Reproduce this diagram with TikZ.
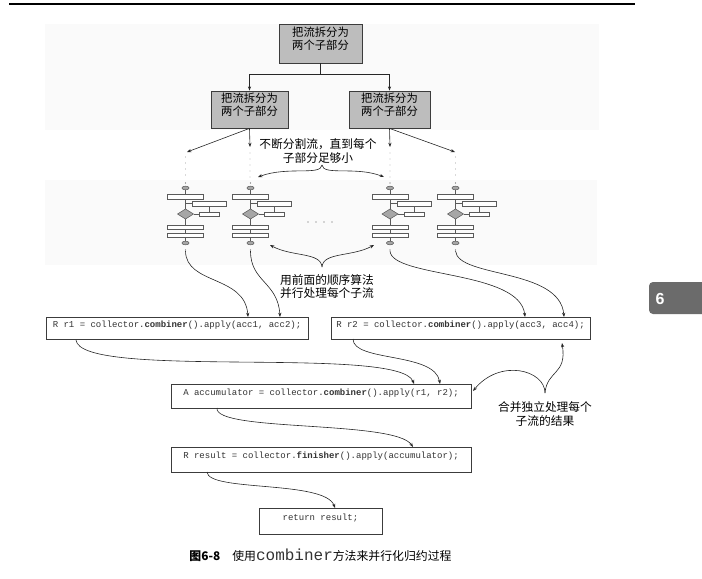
\documentclass[tikz,border=0pt]{standalone}
\usepackage{fontspec}
\newfontfamily\cjk{Noto Sans CJK SC}
\newfontfamily\code{Liberation Mono}
\newfontfamily\tabfont{Liberation Sans}
\usetikzlibrary{arrows.meta,fit}
\definecolor{bandc}{HTML}{FAFAFA}
\definecolor{boxc}{HTML}{BDBDBD}
\definecolor{edgec}{HTML}{3C3C3C}
\definecolor{glyphf}{HTML}{A6A6A6}
\definecolor{glyphd}{HTML}{5A5A5A}
\definecolor{tabc}{HTML}{6B6B6B}
\definecolor{codec}{HTML}{333333}
\tikzset{
  arr/.style={draw=black!85, line width=0.45pt, -{Stealth[length=3.2pt,width=2.4pt]}},
  gbox/.style={draw=edgec, fill=boxc, line width=0.6pt, inner sep=0pt, align=center,
    font=\cjk\fontsize{8.5}{9.8}\selectfont},
  cbox/.style={draw=edgec, fill=white, line width=0.5pt, inner sep=0pt, text=codec,
    font=\code\fontsize{6.75}{8}\selectfont},
  lbl/.style={align=center, inner sep=0pt, font=\cjk\fontsize{8.8}{9.8}\selectfont},
  gl/.style={draw=glyphd, line width=0.4pt},
  glyph/.pic={
    \draw[gl] (0,8) -- (0,63);
    \fill[glyphd] (0,3) circle (0.4pt);
    \fill[glyphd] (0,70) circle (0.4pt);
    \draw[gl, fill=glyphf] (0,8) ellipse (2.7pt and 1.4pt);
    \draw[gl, fill=white] (-18,14) rectangle (18,19);
    \draw[gl] (0,23.5) -- (7,23.5);
    \draw[gl, fill=white] (7,21) rectangle (41,26);
    \draw[gl] (24,26) -- (24,32);
    \draw[gl] (8,34) -- (14,34);
    \draw[gl, fill=glyphf] (0,29) -- (8,34) -- (0,39) -- (-8,34) -- cycle;
    \draw[gl, fill=white] (14,32) rectangle (34,36);
    \draw[gl, fill=white] (-18,45) rectangle (18,49);
    \draw[gl, fill=white] (-18,53) rectangle (18,57);
    \draw[gl, fill=glyphf] (0,63) ellipse (2.7pt and 1.4pt);
  },
  coldots/.style={draw=glyphd, line width=0.6pt, line cap=round, dash pattern=on 0pt off 4.5pt}
}
\begin{document}
\begin{tikzpicture}[x=0.75pt,y=-0.75pt]
\useasboundingbox (0,0) rectangle (702,578);
% header rule
\draw[line width=1.1pt] (9,4) -- (635,4);
% background bands
\fill[bandc] (45,24) rectangle (599,130);
\fill[bandc] (45,180) rectangle (597,265);
% split boxes
\node[gbox, fit={(279,24) (362,63)}] (top) {把流拆分为\\两个子部分};
\node[gbox, fit={(211,91) (288,128)}] (ml) {把流拆分为\\两个子部分};
\node[gbox, fit={(349,91) (430,128)}] (mr) {把流拆分为\\两个子部分};
\draw[arr] (top.south) -- ++(0,11) -| (ml.north);
\draw[arr] (top.south) -- ++(0,11) -| (mr.north);
% arrows down to columns
\coordinate (d1) at (187,152);
\coordinate (d2) at (250,147);
\coordinate (d3) at (390,147);
\coordinate (d4) at (455,152);
\draw[arr] (ml.south) -- (d1);
\draw[arr] (ml.south) -- (d2);
\draw[arr] (mr.south) -- (d3);
\draw[arr] (mr.south) -- (d4);
\draw[coldots] (185.5,157) -- (185.5,180);
\draw[coldots] (250,153) -- (250,180);
\draw[coldots] (390,153) -- (390,180);
\draw[coldots] (455.5,157) -- (455.5,180);
% label 1 with brace
\node[lbl] (t1) at (318,151) {不断分割流，直到每个\\子部分足够小};
\coordinate (b1) at (322,165);
\coordinate (b1l) at (258,177);
\coordinate (b1r) at (384,177);
\draw[arr] (b1) .. controls (321,176) and (288,166) .. (b1l);
\draw[arr] (b1) .. controls (323,176) and (356,166) .. (b1r);
% flowchart glyphs
\pic at (185.5,180) {glyph};
\pic at (250.5,180) {glyph};
\pic at (390,180) {glyph};
\pic at (455.5,180) {glyph};
\foreach \xx in {308,316,324,332} \fill[glyphd] (\xx,222) circle (0.45pt);
% label 2 with brace
\node[lbl] (t2) at (327,287) {用前面的顺序算法\\并行处理每个子流};
\coordinate (b2) at (322,267);
\coordinate (b2l) at (270,245);
\coordinate (b2r) at (374,245);
\draw[arr] (b2) .. controls (321,252) and (292,257) .. (b2l);
\draw[arr] (b2) .. controls (323,252) and (352,257) .. (b2r);
% code boxes
\node[cbox, fit={(46,317) (308,339)}] (c1) {R r1 = collector.\textbf{combiner}().apply(acc1, acc2);};
\node[cbox, fit={(331,317) (590,339)}] (c2) {R r2 = collector.\textbf{combiner}().apply(acc3, acc4);};
\node[cbox, fit={(171,384) (471,408)}] (c3) {A accumulator = collector.\textbf{combiner}().apply(r1, r2);};
\node[cbox, fit={(171,447) (471,472)}] (c4) {R result = collector.\textbf{finisher}().apply(accumulator);};
\node[cbox, fit={(259,508) (382,534)}] (c5) {return result;};
% glyph outputs to code
\coordinate (g1) at (185.5,251);
\coordinate (g2) at (250.5,251);
\coordinate (g3) at (390,251);
\coordinate (g4) at (455.5,251);
\coordinate (acc1) at (248,317);
\coordinate (acc2) at (280,317);
\coordinate (acc3) at (525,317);
\coordinate (acc4) at (564,317);
\draw[arr] (g1) .. controls (186,285) and (245,275) .. (acc1);
\draw[arr] (g2) .. controls (250.5,282) and (278,282) .. (acc2);
\draw[arr] (g3) .. controls (392,278) and (520,270) .. (acc3);
\draw[arr] (g4) .. controls (458,278) and (560,268) .. (acc4);
% combining
\coordinate (r1s) at (76,340);
\coordinate (r1e) at (414,384);
\coordinate (r2s) at (353,339);
\coordinate (r2e) at (440,384);
\draw[arr] (r1s) .. controls (80,380) and (400,345) .. (r1e);
\draw[arr] (r2s) .. controls (353,362) and (435,352) .. (r2e);
\node[lbl] (t3) at (545,414) {合并独立处理每个\\子流的结果};
\coordinate (b3) at (545,393);
\coordinate (b3l) at (473,391);
\coordinate (b3r) at (562,343);
\draw[arr] (b3) .. controls (545,370) and (500,358) .. (b3l);
\draw[arr] (b3) .. controls (547,370) and (567,375) .. (b3r);
% finishing
\coordinate (as) at (217,408);
\coordinate (ae) at (413,447);
\coordinate (rs) at (207,472);
\coordinate (re) at (335,508);
\draw[arr] (as) .. controls (214,432) and (395,420) .. (ae);
\draw[arr] (rs) .. controls (208,492) and (325,480) .. (re);
% caption
\node[inner sep=0pt, font=\cjk\fontsize{8.9}{10}\selectfont] (cap) at (320.5,555)
  {\textbf{图6-8}\hspace{9pt}使用{\code\fontsize{12}{10}\selectfont\color{codec}combiner}方法来并行化归约过程};
% chapter tab
\fill[tabc, rounded corners=3pt] (649,282) rectangle (712,314);
\node[text=white, inner sep=0pt, font=\tabfont\bfseries\fontsize{12}{12}\selectfont] (tab6) at (660,299) {6};
\end{tikzpicture}
\end{document}
